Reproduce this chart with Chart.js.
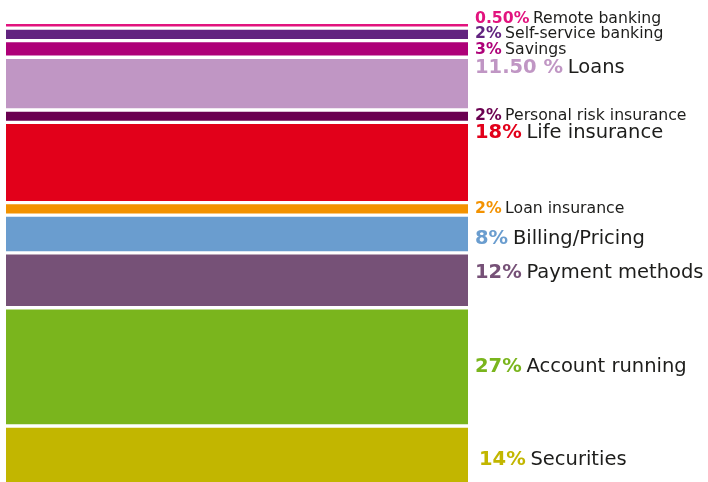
<!DOCTYPE html>
<html><head><meta charset="utf-8">
<script src="https://cdn.jsdelivr.net/npm/chart.js@4/dist/chart.umd.min.js"></script>
<style>html,body{margin:0;padding:0;background:#fff}#wrap{width:708px;height:482px}</style>
</head><body><div id="wrap"><canvas id="c" width="708" height="482"></canvas></div>
<script>
// Data (bottom to top)
const categories = ['Securities','Account running','Payment methods','Billing/Pricing','Loan insurance','Life insurance','Personal risk insurance','Loans','Savings','Self-service banking','Remote banking'];
const shares = [14, 27, 12, 8, 2, 18, 2, 11.5, 3, 2, 0.5];
const shareLabels = ['14%','27%','12%','8%','2%','18%','2%','11.50 %','3%','2%','0.50%'];

// Styles
const colors = ['#C2B600','#7AB51D','#765177','#6A9DCF','#F39200','#E2001A','#6A0050','#C096C4','#AE0078','#62237F','#E2137E'];
const labelSize = [19.5,19.5,19.5,19.5,15.7,19.5,15.7,19.5,15.7,15.7,15.7];
const labelAnchor = ['center','center','center','center','center','top','center','top','center','center','center'];
const labelDy = [2,0,-7,5,0,-2,0,-2,1,0,-6];
const labelDx = [4,0,0,0,0,0,0,0,0,0,0];
const GAP = 0.945;
const FONT = '"DejaVu Sans", sans-serif';

// Build floating ranges from shares, with a white gap between segments
const ranges = [];
let acc = 0;
shares.forEach((v, i) => { ranges.push([acc, acc + v]); acc += v + GAP; });
const axisMax = acc - GAP;

const datasets = categories.map((name, i) => ({
  label: name,
  data: [ranges[i]],
  backgroundColor: colors[i],
  borderWidth: 0,
  barPercentage: 1,
  categoryPercentage: 1
}));

const labelPlugin = {
  id: 'sideLabels',
  afterDatasetsDraw(chart) {
    const ctx = chart.ctx;
    ctx.save();
    chart.data.datasets.forEach((ds, i) => {
      const el = chart.getDatasetMeta(i).data[0];
      const x = el.x + el.width / 2 + 7 + labelDx[i];
      const topY = Math.min(el.y, el.base), botY = Math.max(el.y, el.base);
      let y;
      if (labelAnchor[i] === 'top') { y = topY + labelSize[i] * 0.5 + 1; }
      else { y = (topY + botY) / 2; }
      y += labelDy[i];
      ctx.textBaseline = 'middle';
      ctx.textAlign = 'left';
      ctx.font = 'bold ' + labelSize[i] + 'px ' + FONT;
      ctx.fillStyle = colors[i];
      ctx.fillText(shareLabels[i], x, y);
      const w = ctx.measureText(shareLabels[i] + ' ').width;
      ctx.font = labelSize[i] + 'px ' + FONT;
      ctx.fillStyle = '#1d1d1b';
      ctx.fillText(ds.label, x + w - 2, y);
    });
    ctx.restore();
  }
};

new Chart(document.getElementById('c'), {
  type: 'bar',
  data: { labels: [''], datasets },
  options: {
    responsive: false,
    animation: false,
    layout: { padding: { top: 24, bottom: 0, left: 6, right: 240 } },
    plugins: { legend: { display: false }, tooltip: { enabled: false } },
    scales: {
      x: { display: false, stacked: true },
      y: { display: false, stacked: false, min: 1.25, max: axisMax }
    }
  },
  plugins: [labelPlugin]
});
</script></body></html>
